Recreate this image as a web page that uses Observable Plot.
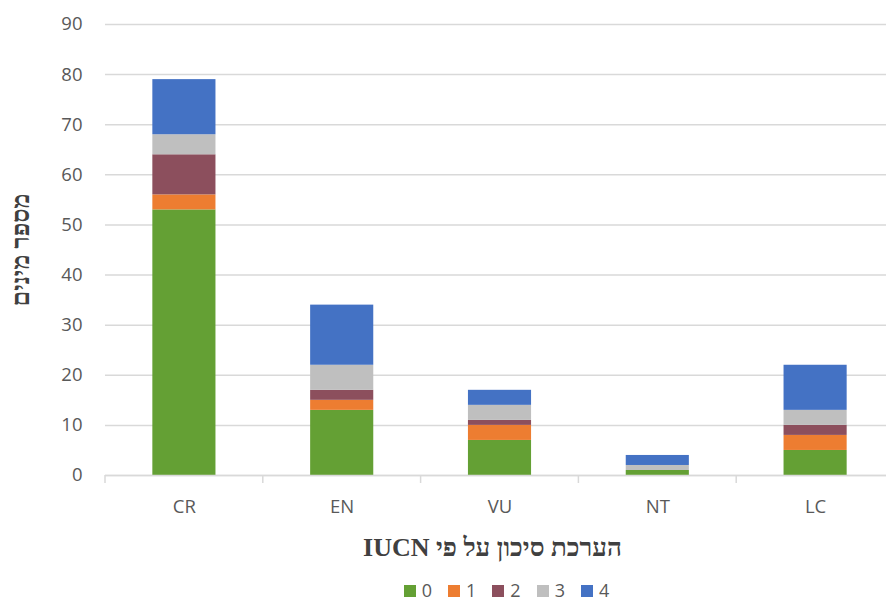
<!DOCTYPE html>
<html>
<head>
<meta charset="utf-8">
<script src="https://cdn.jsdelivr.net/npm/d3@7"></script>
<script src="https://cdn.jsdelivr.net/npm/@observablehq/plot@0.6"></script>
<style>
  html, body { margin: 0; padding: 0; background: #fff; }
  #wrap { width: 886px; }
  #wrap svg { display: block; }
  .xtitle { margin-left: 105px; width: 775px; height: 40px; line-height: 40px; margin-top: 8px; text-align: center;
    font-family: "Liberation Serif", "Tinos", serif; font-weight: bold; font-size: 26px; color: #404040; direction: rtl; }
  .legend { margin-left: 119px; width: 775px; height: 20px; margin-top: 12px; display: flex; justify-content: center; gap: 16px;
    font-family: "Open Sans", "Noto Sans", sans-serif; font-size: 18px; color: #595959; line-height: 20px; }
  .legend span.item { display: inline-flex; align-items: center; gap: 6px; height: 20px; }
  .legend span.sw { width: 12px; height: 12px; display: inline-block; margin-top: 2px; }
</style>
</head>
<body>
<div id="wrap"></div>
<script>
const categories = ["CR", "EN", "VU", "NT", "LC"];
const seriesNames = ["0", "1", "2", "3", "4"];
const s0 = [53, 13, 7, 1, 5];
const s1 = [3, 2, 3, 0, 3];
const s2 = [8, 2, 1, 0, 2];
const s3 = [4, 5, 3, 1, 3];
const s4 = [11, 12, 3, 2, 9];
const colors = ["#64A034", "#ED7D31", "#8C4F5D", "#BFBFBF", "#4472C4"];
const yTicks = [0, 10, 20, 30, 40, 50, 60, 70, 80, 90];
const yTitle = "מספר מינים";
const xTitle = "הערכת סיכון על פי IUCN";

const seriesValues = [s0, s1, s2, s3, s4];
const data = [];
categories.forEach((c, i) => {
  seriesNames.forEach((s, k) => data.push({cat: c, series: s, value: seriesValues[k][i]}));
});

const edgeTicks = (index, scales, values, dims) => {
  const g = d3.create("svg:g");
  const x = scales.x, bw = x.bandwidth();
  const step = x.step();
  const y0 = scales.y(0);
  const edges = categories.map(c => x(c) - (step - bw) / 2);
  edges.push(x(categories[categories.length - 1]) + bw + (step - bw) / 2);
  g.append("line").attr("x1", dims.marginLeft).attr("x2", dims.width)
    .attr("y1", y0 + 0.5).attr("y2", y0 + 0.5).attr("stroke", "#d9d9d9").attr("stroke-width", 1.5);
  edges.forEach(e => g.append("line").attr("x1", e).attr("x2", e).attr("y1", y0).attr("y2", y0 + 8)
    .attr("stroke", "#d9d9d9").attr("stroke-width", 1.5));
  return g.node();
};

const chart = Plot.plot({
  width: 886,
  height: 520,
  marginLeft: 105,
  marginRight: 0,
  marginTop: 24,
  marginBottom: 45,
  style: {fontFamily: "'Open Sans', 'Noto Sans', sans-serif", fontSize: "18px", color: "#595959", background: "#fff"},
  x: {domain: categories, range: [105, 894], round: false, paddingInner: 0.6, paddingOuter: 0.3, label: null},
  y: {domain: [0, 90], label: null},
  color: {domain: seriesNames, range: colors},
  marks: [
    Plot.gridY(yTicks, {stroke: "#d9d9d9", strokeOpacity: 1, strokeWidth: 1.5}),
    Plot.axisY(yTicks, {tickSize: 0, tickPadding: 23, fontSize: 18.5, fill: "#595959"}),
    Plot.axisX({tickSize: 0, tickPadding: 24, fontSize: 18.5, fill: "#595959"}),
    Plot.barY(data, {x: "cat", y: "value", fill: "series"}),
    edgeTicks,
    Plot.text([yTitle], {text: d => d, frameAnchor: "left", textAnchor: "middle", rotate: -90, dx: -85,
      fontFamily: "'Liberation Serif', 'Tinos', serif", fontWeight: "bold", fontSize: 25, fill: "#404040"})
  ]
});

const wrap = document.getElementById("wrap");
wrap.appendChild(chart);
const xt = document.createElement("div");
xt.className = "xtitle";
xt.textContent = xTitle;
wrap.appendChild(xt);
const lg = document.createElement("div");
lg.className = "legend";
seriesNames.forEach((s, k) => {
  const it = document.createElement("span");
  it.className = "item";
  const sw = document.createElement("span");
  sw.className = "sw";
  sw.style.background = colors[k];
  it.appendChild(sw);
  it.appendChild(document.createTextNode(s));
  lg.appendChild(it);
});
wrap.appendChild(lg);
</script>
</body>
</html>
